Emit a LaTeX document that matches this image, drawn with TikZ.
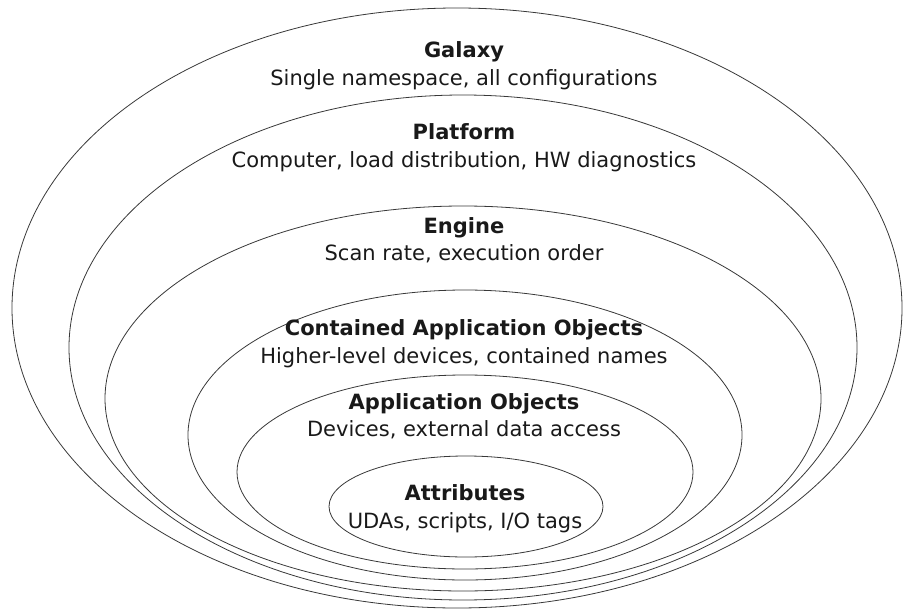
\documentclass[tikz,border=0pt]{standalone}
\usepackage{fontspec}
\setmainfont{DejaVu Sans}
\usepackage{xcolor}
\usepackage{tikz}
\usetikzlibrary{
  shapes.geometric
}
\definecolor{ringline}{gray}{0.22}
\definecolor{ringtext}{gray}{0.10}
\tikzset{
  ring/.style={
    draw=ringline,
    ellipse,
    line width=0.8pt,
    inner sep=0pt,
    outer sep=0pt,
  },
  ttl/.style={
    anchor=base,
    inner sep=0pt,
    text=ringtext,
    font=\fontsize{21}{24}\selectfont\bfseries,
  },
  sub/.style={
    anchor=base,
    inner sep=0pt,
    text=ringtext,
    font=\fontsize{21}{24}\selectfont,
  },
}

\begin{document}
\begin{tikzpicture}[
  x=1pt, y=-1pt,
]
  \useasboundingbox (0,0) rectangle (907,610);

  % --- nested rings, all resting near the bottom ---
  \node[ring, minimum width=890pt, minimum height=600pt] (galaxy)    at (457,308)   {};
  \node[ring, minimum width=788pt, minimum height=505pt] (platform)  at (463,347.5) {};
  \node[ring, minimum width=716pt, minimum height=385pt] (engine)    at (463,398.5) {};
  \node[ring, minimum width=554pt, minimum height=290pt] (contained) at (465,435)   {};
  \node[ring, minimum width=456pt, minimum height=194pt] (appobj)    at (465,472)   {};
  \node[ring, minimum width=274pt, minimum height=101pt] (attrib)    at (466,506.5) {};

  % --- ring labels ---
  \node[ttl] (galaxyT)    at (464,57)  {Galaxy};
  \node[sub] (galaxyS)    at (464,85)  {Single namespace, all configurations};

  \node[ttl] (platformT)  at (464,139) {Platform};
  \node[sub] (platformS)  at (464,167) {Computer, load distribution, HW diagnostics};

  \node[ttl] (engineT)    at (464,233) {Engine};
  \node[sub] (engineS)    at (464,260) {Scan rate, execution order};

  \node[ttl] (containedT) at (464,335) {Contained Application Objects};
  \node[sub] (containedS) at (464,363) {Higher-level devices, contained names};

  \node[ttl] (appobjT)    at (464,409) {Application Objects};
  \node[sub] (appobjS)    at (464,436) {Devices, external data access};

  \node[ttl] (attribT)    at (465,500) {Attributes};
  \node[sub] (attribS)    at (465,528) {UDAs, scripts, I/O tags};
\end{tikzpicture}
\end{document}
